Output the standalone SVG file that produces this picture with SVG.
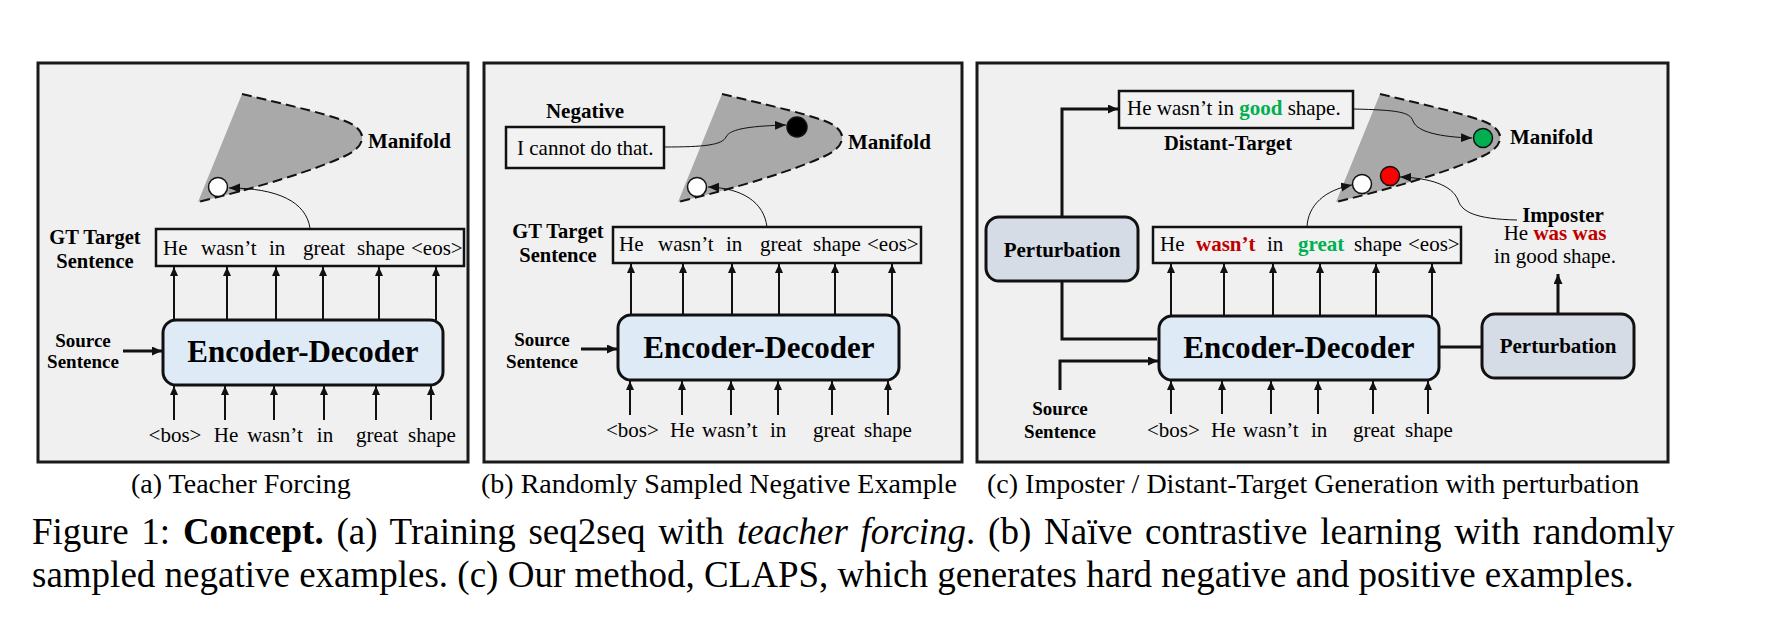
<svg xmlns="http://www.w3.org/2000/svg" width="1774" height="624" viewBox="0 0 1774 624">
<style>
.t{font-family:"Liberation Serif","Times New Roman",serif;font-size:21px;fill:#000}
.b{font-weight:bold}
.mid{text-anchor:middle}
.panel{fill:#f0f0f0;stroke:#1a1a1a;stroke-width:3}
.ed{fill:#deebf7;stroke:#111;stroke-width:3}
.pert{fill:#d6dce5;stroke:#111;stroke-width:3}
.box{fill:#f2f2f2;stroke:#111;stroke-width:2.5}
.man{fill:#a9a9a9}
.dash{fill:none;stroke:#111;stroke-width:2;stroke-dasharray:10 5}
.ar{fill:none;stroke:#111;stroke-width:2;marker-end:url(#ah)}
.arb{fill:none;stroke:#111;stroke-width:3;marker-end:url(#ahb)}
.ln{fill:none;stroke:#111;stroke-width:3}
.thin{fill:none;stroke:#111;stroke-width:1;marker-end:url(#ahs)}
.red{fill:#c00000}
.grn{fill:#00b050}
.cap{font-family:"Liberation Serif","Times New Roman",serif;font-size:28px;fill:#000}
.fig{font-family:"Liberation Serif","Times New Roman",serif;font-size:37px;fill:#000}
</style>
<defs>
<marker id="ah" markerUnits="userSpaceOnUse" markerWidth="10" markerHeight="9" refX="9" refY="4" orient="auto"><path d="M0,0 L9,4 L0,8 z" fill="#111"/></marker>
<marker id="ahb" markerUnits="userSpaceOnUse" markerWidth="11" markerHeight="10" refX="10" refY="4.5" orient="auto"><path d="M0,0 L10,4.5 L0,9 z" fill="#111"/></marker>
<marker id="ahs" markerUnits="userSpaceOnUse" markerWidth="12" markerHeight="10" refX="11" refY="4.5" orient="auto"><path d="M0,0 L11,4.5 L0,9 z" fill="#111"/></marker>
<path id="manifold" class="man" d="M242,94 C275,102 320,112 345,121 C358,126 363,133 362,139 C361,146 355,151 345,156 C315,170 260,187 198,202 Z"/>
<path id="mdash" class="dash" d="M242,94 C275,102 320,112 345,121 C358,126 363,133 362,139 C361,146 355,151 345,156 C315,170 260,187 198,202"/>
</defs>

<!-- Panels -->
<rect class="panel" x="38" y="63" width="430" height="399"/>
<rect class="panel" x="484" y="63" width="478" height="399"/>
<rect class="panel" x="977" y="63" width="691" height="399"/>

<!-- Panel (a) -->
<g id="a-manifold">
<use href="#manifold"/><use href="#mdash"/>
<circle cx="218" cy="187" r="9.5" fill="#fff" stroke="#111" stroke-width="1.5"/>
<text class="t b" x="368" y="148">Manifold</text>
</g>
<g id="a-gt">
<rect class="box" x="156" y="229" width="308" height="37"/>
<text class="t" y="255"><tspan x="163">He</tspan><tspan x="201">wasn’t</tspan><tspan x="269">in</tspan><tspan x="303">great</tspan><tspan x="357">shape</tspan><tspan x="411">&lt;eos&gt;</tspan></text>
<text class="t b mid" style="font-size:20.5px" x="95" y="244">GT Target</text>
<text class="t b mid" style="font-size:20.5px" x="95" y="268">Sentence</text>
</g>
<g id="a-ed">
<rect class="ed" x="163" y="320" width="280" height="65" rx="13"/>
<text class="t b mid" style="font-size:31px" x="303" y="362">Encoder-Decoder</text>
</g>
<g id="a-src">
<text class="t b mid" style="font-size:19px" x="83" y="347">Source</text>
<text class="t b mid" style="font-size:19px" x="83" y="368">Sentence</text>
</g>
<g id="a-inputs">
<text class="t mid" y="442"><tspan x="175">&lt;bos&gt;</tspan><tspan x="226">He</tspan><tspan x="275">wasn’t</tspan><tspan x="325">in</tspan><tspan x="377">great</tspan><tspan x="432">shape</tspan></text>
</g>

<!-- Panel (b) -->
<g id="b-manifold">
<use href="#manifold" transform="translate(480,0)"/><use href="#mdash" transform="translate(480,0)"/>
<circle cx="697" cy="187" r="9.5" fill="#fff" stroke="#111" stroke-width="1.5"/>
<circle cx="797" cy="127" r="10" fill="#000" stroke="#111" stroke-width="1.5"/>
<text class="t b" x="848" y="149">Manifold</text>
</g>
<g id="b-negative">
<text class="t b mid" x="585" y="118">Negative</text>
<rect class="box" x="506" y="127" width="158" height="41"/>
<text class="t" x="517" y="155">I cannot do that.</text>
</g>
<g id="b-gt">
<rect class="box" x="613" y="227" width="308" height="36"/>
<text class="t" y="251"><tspan x="619">He</tspan><tspan x="658">wasn’t</tspan><tspan x="726">in</tspan><tspan x="760">great</tspan><tspan x="813">shape</tspan><tspan x="867">&lt;eos&gt;</tspan></text>
<text class="t b mid" style="font-size:20.5px" x="558" y="238">GT Target</text>
<text class="t b mid" style="font-size:20.5px" x="558" y="262">Sentence</text>
</g>
<g id="b-ed">
<rect class="ed" x="618" y="315" width="281" height="65" rx="13"/>
<text class="t b mid" style="font-size:31px" x="759" y="358">Encoder-Decoder</text>
</g>
<g id="b-src">
<text class="t b mid" style="font-size:19px" x="542" y="346">Source</text>
<text class="t b mid" style="font-size:19px" x="542" y="368">Sentence</text>
</g>
<g id="b-inputs">
<text class="t" y="437"><tspan x="606">&lt;bos&gt;</tspan><tspan x="670">He</tspan><tspan x="702">wasn’t</tspan><tspan x="770">in</tspan><tspan x="813">great</tspan><tspan x="864">shape</tspan></text>
</g>

<!-- Panel (c) -->
<g id="c-manifold">
<use href="#manifold" transform="translate(1138,0)"/><use href="#mdash" transform="translate(1138,0)"/>
<circle cx="1362" cy="184" r="9.5" fill="#fff" stroke="#111" stroke-width="1.5"/>
<circle cx="1390" cy="176" r="9.5" fill="#ff0000" stroke="#111" stroke-width="1.5"/>
<circle cx="1483" cy="138" r="9.5" fill="#00b050" stroke="#111" stroke-width="1.5"/>
<text class="t b" x="1510" y="144">Manifold</text>
</g>
<g id="c-distant">
<rect class="box" x="1119" y="91" width="234" height="37"/>
<text class="t" x="1127" y="115">He wasn’t in <tspan class="b grn">good</tspan> shape.</text>
<text class="t b mid" style="font-size:20.5px" x="1228" y="150">Distant-Target</text>
</g>
<g id="c-pert-left">
<rect class="pert" x="986" y="217" width="152" height="64" rx="13"/>
<text class="t b mid" x="1062" y="257">Perturbation</text>
</g>
<g id="c-gt">
<rect class="box" x="1153" y="227" width="308" height="36"/>
<text class="t" y="251"><tspan x="1160">He</tspan><tspan x="1196" class="b red">wasn’t</tspan><tspan x="1267">in</tspan><tspan x="1298" class="b grn">great</tspan><tspan x="1354">shape</tspan><tspan x="1408">&lt;eos&gt;</tspan></text>
</g>
<g id="c-ed">
<rect class="ed" x="1159" y="316" width="280" height="64" rx="13"/>
<text class="t b mid" style="font-size:31px" x="1299" y="358">Encoder-Decoder</text>
</g>
<g id="c-imposter">
<text class="t b mid" x="1563" y="222">Imposter</text>
<text class="t mid" x="1555" y="240">He <tspan class="b red">was was</tspan></text>
<text class="t mid" x="1555" y="263">in good shape.</text>
</g>
<g id="c-pert-right">
<rect class="pert" x="1482" y="314" width="152" height="64" rx="13"/>
<text class="t b mid" x="1558" y="353">Perturbation</text>
</g>
<g id="c-src">
<text class="t b mid" style="font-size:19px" x="1060" y="415">Source</text>
<text class="t b mid" style="font-size:19px" x="1060" y="438">Sentence</text>
</g>
<g id="c-inputs">
<text class="t" y="437"><tspan x="1147">&lt;bos&gt;</tspan><tspan x="1211">He</tspan><tspan x="1243">wasn’t</tspan><tspan x="1311">in</tspan><tspan x="1353">great</tspan><tspan x="1405">shape</tspan></text>
</g>

<!-- Connectors -->
<g id="connectors">
<!-- (a) -->
<path class="thin" d="M310,228 C306,202 278,188 229,188"/>
<path class="arb" d="M123,351 L162,351"/>
<path class="ar" d="M174,320 V267"/><path class="ar" d="M227,320 V267"/><path class="ar" d="M276,320 V267"/><path class="ar" d="M323,320 V267"/><path class="ar" d="M379,320 V267"/><path class="ar" d="M436,320 V267"/>
<path class="ar" d="M174,420 V386"/><path class="ar" d="M225,420 V386"/><path class="ar" d="M274,420 V386"/><path class="ar" d="M324,420 V386"/><path class="ar" d="M376,420 V386"/><path class="ar" d="M431,420 V386"/>
<!-- (b) -->
<path class="thin" d="M664,147 C705,147 722,145 726,137 C730,128 755,126 786,125"/>
<path class="thin" d="M767,227 C764,202 742,188 708,187"/>
<path class="arb" d="M581,349 L617,349"/>
<path class="ar" d="M631,315 V264"/><path class="ar" d="M683,315 V264"/><path class="ar" d="M732,315 V264"/><path class="ar" d="M779,315 V264"/><path class="ar" d="M835,315 V264"/><path class="ar" d="M892,315 V264"/>
<path class="ar" d="M630,415 V381"/><path class="ar" d="M682,415 V381"/><path class="ar" d="M731,415 V381"/><path class="ar" d="M778,415 V381"/><path class="ar" d="M832,415 V381"/><path class="ar" d="M888,415 V381"/>
<!-- (c) -->
<path class="thin" d="M1353,109 C1398,110 1410,112 1413,121 C1417,132 1440,137 1472,138"/>
<path class="thin" d="M1307,227 C1308,205 1325,190 1352,185"/>
<path class="thin" d="M1517,220 C1475,219 1462,212 1458,200 C1452,185 1430,178 1400,177"/>
<path class="arb" d="M1062,217 V109 H1118"/>
<path class="ln" d="M1062,281 V339 H1157"/>
<path class="arb" d="M1060,390 V361 H1158"/>
<path class="ln" d="M1439,347 H1482"/>
<path class="arb" d="M1558,314 V274"/>
<path class="ar" d="M1171,316 V264"/><path class="ar" d="M1224,316 V264"/><path class="ar" d="M1273,316 V264"/><path class="ar" d="M1320,316 V264"/><path class="ar" d="M1376,316 V264"/><path class="ar" d="M1432,316 V264"/>
<path class="ar" d="M1171,414 V381"/><path class="ar" d="M1222,414 V381"/><path class="ar" d="M1271,414 V381"/><path class="ar" d="M1318,414 V381"/><path class="ar" d="M1373,414 V381"/><path class="ar" d="M1428,414 V381"/>
</g>

<!-- Captions -->
<text class="cap" x="131" y="493">(a) Teacher Forcing</text>
<text class="cap" x="481" y="493">(b) Randomly Sampled Negative Example</text>
<text class="cap" x="987" y="493">(c) Imposter / Distant-Target Generation with perturbation</text>
<text class="fig" x="32" y="544" style="word-spacing:3.5px">Figure 1: <tspan font-weight="bold">Concept.</tspan> (a) Training seq2seq with <tspan font-style="italic">teacher forcing</tspan>. (b) Naïve contrastive learning with randomly</text>
<text class="fig" x="32" y="587">sampled negative examples. (c) Our method, CLAPS, which generates hard negative and positive examples.</text>
</svg>
